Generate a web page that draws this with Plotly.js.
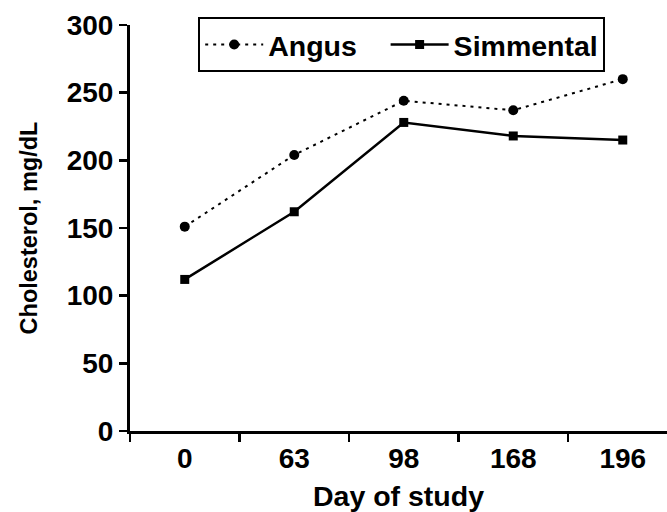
<!DOCTYPE html>
<html>
<head>
<meta charset="utf-8">
<script src="https://cdn.plot.ly/plotly-3.0.1.min.js"></script>
<style>html,body{margin:0;padding:0;background:#fff}#chart{width:667px;height:512px}</style>
</head>
<body>
<div id="chart"></div>
<script>
const days = ["0", "63", "98", "168", "196"];
const angus = [151, 204, 244, 237, 260];
const simmental = [112, 162, 228, 218, 215];
const yTicks = [0, 50, 100, 150, 200, 250, 300];
const seriesNames = ["Angus", "Simmental"];

const FAM = "Liberation Sans, Arial, sans-serif";
const TICKFONT = {family: FAM, size: 28, color: "#000", weight: "bold"};
const XTITLEFONT = {family: FAM, size: 28.5, color: "#000", weight: "bold"};
const YTITLEFONT = {family: FAM, size: 23.5, color: "#000", weight: "bold"};
const LEGFONT = {family: FAM, size: 28.5, color: "#000", weight: "bold"};
const PAD = "\u00A0\u00A0\u00A0";

const traces = [
  {x: days, y: angus, name: seriesNames[0] + PAD, type: "scatter", mode: "lines+markers",
   line: {color: "#000", width: 2, dash: "3px,5px"},
   marker: {symbol: "circle", size: 10, color: "#000"}},
  {x: days, y: simmental, name: seriesNames[1], type: "scatter", mode: "lines+markers",
   line: {color: "#000", width: 2.5},
   marker: {symbol: "square", size: 9, color: "#000"}}
];

const layout = {
  width: 667, height: 512,
  margin: {l: 130, r: 0, t: 25, b: 81},
  paper_bgcolor: "#fff", plot_bgcolor: "#fff",
  font: TICKFONT,
  showlegend: true,
  legend: {orientation: "h", x: 0.127, y: 1.0185, xanchor: "left", yanchor: "top",
           bordercolor: "#000", borderwidth: 2, bgcolor: "#fff",
           font: LEGFONT, itemwidth: 58, traceorder: "normal"},
  xaxis: {type: "category", range: [-0.5, 4.404], tickson: "boundaries",
          showline: true, linecolor: "#000", linewidth: 3,
          ticks: "outside", ticklen: 8, tickwidth: 2.5, tickcolor: "#000",
          showgrid: false, zeroline: false, tickfont: TICKFONT,
          title: {text: "Day of study", font: XTITLEFONT, standoff: 16}},
  yaxis: {range: [0, 300], tickvals: yTicks, ticktext: yTicks.map(String),
          showline: true, linecolor: "#000", linewidth: 3,
          ticks: "outside", ticklen: 8, tickwidth: 2.5, tickcolor: "#000",
          showgrid: false, zeroline: false, tickfont: TICKFONT,
          title: {text: "Cholesterol, mg/dL", font: YTITLEFONT, standoff: 23}}
};

Plotly.newPlot("chart", traces, layout, {displayModeBar: false, staticPlot: true});
</script>
</body>
</html>
